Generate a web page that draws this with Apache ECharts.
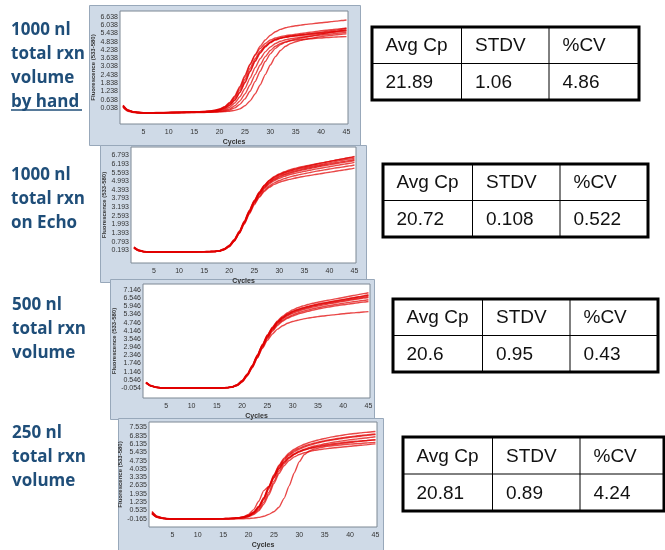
<!DOCTYPE html>
<html><head><meta charset="utf-8">
<script src="https://cdn.jsdelivr.net/npm/echarts@6/dist/echarts.min.js"></script>
<style>html,body{margin:0;padding:0;background:#fff}#c{width:665px;height:550px}</style>
</head><body><div id="c"></div>
<script>
// ---------------- DATA ----------------
const cycles = [1,2,3,4,5,6,7,8,9,10,11,12,13,14,15,16,17,18,19,20,21,22,23,24,25,26,27,28,29,30,31,32,33,34,35,36,37,38,39,40,41,42,43,44,45];
const xTickValues = [5,10,15,20,25,30,35,40,45];

const yTicks1 = [0.038,0.638,1.238,1.838,2.438,3.038,3.638,4.238,4.838,5.438,6.038,6.638];
const yTicks2 = [0.193,0.793,1.393,1.993,2.593,3.193,3.793,4.393,4.993,5.593,6.193,6.793];
const yTicks3 = [-0.054,0.546,1.146,1.746,2.346,2.946,3.546,4.146,4.746,5.346,5.946,6.546,7.146];
const yTicks4 = [-0.165,0.535,1.235,1.935,2.635,3.335,4.035,4.735,5.435,6.135,6.835,7.535];

const yAxisName = 'Fluorescence (533-580)';
const xAxisName = 'Cycles';

// Panel 1: 1000 nl by hand
const p1c1 = [0.25,-0.10,-0.22,-0.27,-0.29,-0.30,-0.30,-0.29,-0.29,-0.28,-0.27,-0.27,-0.26,-0.25,-0.24,-0.23,-0.21,-0.18,-0.13,-0.04,0.12,0.40,0.85,1.50,2.30,3.15,3.90,4.50,4.95,5.30,5.55,5.72,5.84,5.92,5.98,6.03,6.08,6.12,6.16,6.20,6.24,6.28,6.32,6.36,6.40];
const p1c2 = [0.15,-0.15,-0.25,-0.28,-0.30,-0.31,-0.31,-0.30,-0.30,-0.29,-0.28,-0.28,-0.27,-0.26,-0.25,-0.24,-0.22,-0.20,-0.15,-0.07,0.08,0.33,0.75,1.35,2.10,2.90,3.60,4.15,4.55,4.82,5.00,5.10,5.18,5.24,5.29,5.34,5.38,5.43,5.47,5.52,5.57,5.62,5.67,5.73,5.80];
const p1c3 = [0.10,-0.20,-0.28,-0.31,-0.33,-0.33,-0.33,-0.32,-0.32,-0.31,-0.30,-0.30,-0.29,-0.28,-0.27,-0.26,-0.25,-0.23,-0.19,-0.12,0.00,0.22,0.60,1.15,1.85,2.65,3.40,4.00,4.45,4.75,4.95,5.07,5.15,5.20,5.24,5.28,5.32,5.35,5.39,5.42,5.46,5.50,5.53,5.57,5.60];
const p1c4 = [0.20,-0.12,-0.24,-0.28,-0.30,-0.30,-0.30,-0.30,-0.29,-0.29,-0.28,-0.28,-0.27,-0.27,-0.26,-0.25,-0.24,-0.23,-0.20,-0.16,-0.07,0.10,0.40,0.85,1.45,2.20,2.95,3.60,4.10,4.45,4.70,4.86,4.97,5.05,5.10,5.15,5.19,5.23,5.27,5.31,5.35,5.39,5.43,5.47,5.50];
const p1c5 = [0.15,-0.15,-0.26,-0.30,-0.31,-0.32,-0.32,-0.31,-0.31,-0.30,-0.30,-0.29,-0.29,-0.28,-0.28,-0.27,-0.26,-0.25,-0.23,-0.20,-0.14,-0.02,0.20,0.55,1.05,1.70,2.45,3.15,3.75,4.20,4.50,4.70,4.82,4.90,4.95,4.99,5.02,5.05,5.08,5.10,5.13,5.15,5.17,5.19,5.20];
const p1c6 = [0.18,-0.14,-0.25,-0.29,-0.31,-0.31,-0.31,-0.30,-0.30,-0.29,-0.29,-0.28,-0.28,-0.27,-0.27,-0.26,-0.25,-0.24,-0.23,-0.22,-0.18,-0.10,0.05,0.30,0.70,1.25,1.95,2.70,3.40,3.95,4.35,4.62,4.80,4.93,5.02,5.10,5.17,5.24,5.31,5.38,5.45,5.52,5.58,5.64,5.70];
const p1c7 = [0.12,-0.17,-0.27,-0.31,-0.32,-0.33,-0.33,-0.32,-0.32,-0.31,-0.31,-0.30,-0.30,-0.29,-0.29,-0.28,-0.28,-0.27,-0.26,-0.24,-0.22,-0.19,-0.13,-0.02,0.20,0.55,1.05,1.70,2.45,3.15,3.75,4.20,4.50,4.70,4.83,4.93,5.01,5.08,5.14,5.20,5.25,5.29,5.33,5.37,5.40];
const p1c8 = [0.22,-0.11,-0.23,-0.27,-0.29,-0.29,-0.29,-0.28,-0.28,-0.27,-0.26,-0.26,-0.25,-0.24,-0.23,-0.22,-0.20,-0.17,-0.12,-0.03,0.14,0.45,0.92,1.60,2.40,3.20,3.85,4.35,4.70,4.95,5.10,5.20,5.27,5.32,5.37,5.42,5.47,5.52,5.57,5.62,5.66,5.70,5.74,5.77,5.80];
const p1c9 = [0.17,-0.13,-0.24,-0.28,-0.30,-0.31,-0.30,-0.30,-0.29,-0.29,-0.28,-0.27,-0.27,-0.26,-0.25,-0.24,-0.23,-0.21,-0.17,-0.10,0.03,0.25,0.62,1.18,1.90,2.70,3.45,4.05,4.48,4.78,4.98,5.10,5.18,5.24,5.28,5.32,5.36,5.40,5.44,5.48,5.52,5.55,5.58,5.62,5.65];

// Panel 2: 1000 nl on Echo
const p2c1 = [0.42,0.20,0.11,0.08,0.08,0.07,0.07,0.08,0.08,0.08,0.09,0.09,0.09,0.10,0.10,0.11,0.12,0.16,0.29,0.52,0.92,1.48,2.18,2.93,3.63,4.22,4.72,5.07,5.32,5.50,5.65,5.78,5.88,5.96,6.03,6.10,6.17,6.24,6.30,6.37,6.44,6.51,6.58,6.65,6.72];
const p2c2 = [0.38,0.18,0.10,0.08,0.07,0.07,0.07,0.07,0.08,0.08,0.08,0.09,0.09,0.09,0.10,0.10,0.11,0.15,0.27,0.50,0.90,1.45,2.15,2.90,3.60,4.18,4.66,5.00,5.24,5.42,5.56,5.68,5.78,5.86,5.93,6.00,6.07,6.14,6.21,6.28,6.35,6.42,6.48,6.54,6.60];
const p2c3 = [0.35,0.16,0.09,0.07,0.07,0.06,0.06,0.07,0.07,0.07,0.08,0.08,0.08,0.09,0.09,0.10,0.11,0.14,0.25,0.47,0.86,1.40,2.10,2.84,3.54,4.12,4.58,4.92,5.16,5.34,5.48,5.60,5.70,5.78,5.86,5.93,6.00,6.07,6.14,6.20,6.26,6.32,6.38,6.44,6.50];
const p2c4 = [0.40,0.19,0.10,0.08,0.07,0.07,0.07,0.07,0.08,0.08,0.08,0.08,0.09,0.09,0.10,0.10,0.11,0.15,0.27,0.49,0.88,1.42,2.10,2.82,3.50,4.05,4.48,4.80,5.03,5.20,5.33,5.44,5.53,5.61,5.68,5.75,5.82,5.88,5.94,6.00,6.06,6.12,6.18,6.24,6.30];
const p2c5 = [0.36,0.17,0.09,0.07,0.06,0.06,0.06,0.06,0.07,0.07,0.07,0.08,0.08,0.08,0.09,0.09,0.10,0.13,0.24,0.45,0.84,1.38,2.05,2.76,3.42,3.95,4.36,4.66,4.88,5.04,5.17,5.28,5.37,5.45,5.52,5.59,5.66,5.72,5.78,5.84,5.90,5.95,6.00,6.06,6.12];
const p2c6 = [0.34,0.15,0.08,0.06,0.06,0.05,0.05,0.06,0.06,0.06,0.07,0.07,0.07,0.08,0.08,0.09,0.10,0.13,0.23,0.44,0.82,1.35,2.00,2.70,3.35,3.88,4.28,4.57,4.77,4.92,5.03,5.12,5.20,5.27,5.33,5.39,5.45,5.50,5.56,5.62,5.67,5.73,5.78,5.84,5.90];
const p2c7 = [0.41,0.21,0.11,0.09,0.08,0.08,0.08,0.08,0.08,0.09,0.09,0.09,0.10,0.10,0.10,0.11,0.12,0.17,0.30,0.54,0.95,1.52,2.22,2.97,3.66,4.24,4.70,5.04,5.28,5.46,5.60,5.72,5.82,5.91,5.99,6.07,6.15,6.23,6.30,6.37,6.44,6.50,6.56,6.62,6.68];
const p2c8 = [0.37,0.18,0.10,0.08,0.07,0.07,0.07,0.07,0.07,0.08,0.08,0.08,0.09,0.09,0.09,0.10,0.11,0.14,0.26,0.48,0.87,1.42,2.12,2.86,3.55,4.12,4.56,4.88,5.11,5.28,5.42,5.53,5.63,5.72,5.80,5.87,5.94,6.01,6.07,6.13,6.19,6.25,6.31,6.37,6.43];

// Panel 3: 500 nl
const p3c1 = [0.36,0.12,0.00,-0.04,-0.05,-0.06,-0.06,-0.06,-0.06,-0.06,-0.06,-0.06,-0.05,-0.05,-0.05,-0.04,-0.02,0.03,0.18,0.48,0.95,1.58,2.35,3.12,3.84,4.42,4.88,5.22,5.48,5.68,5.84,5.97,6.08,6.17,6.25,6.32,6.39,6.46,6.53,6.60,6.67,6.74,6.81,6.88,6.95];
const p3c2 = [0.33,0.10,-0.01,-0.05,-0.06,-0.07,-0.07,-0.07,-0.07,-0.07,-0.07,-0.06,-0.06,-0.06,-0.05,-0.05,-0.03,0.02,0.16,0.45,0.92,1.55,2.30,3.07,3.78,4.35,4.80,5.13,5.38,5.57,5.72,5.84,5.95,6.04,6.12,6.19,6.26,6.33,6.39,6.45,6.51,6.57,6.63,6.69,6.75];
const p3c3 = [0.30,0.08,-0.02,-0.05,-0.07,-0.07,-0.07,-0.07,-0.07,-0.07,-0.07,-0.07,-0.06,-0.06,-0.06,-0.05,-0.04,0.01,0.14,0.42,0.88,1.50,2.25,3.00,3.70,4.26,4.70,5.02,5.26,5.44,5.58,5.70,5.80,5.89,5.97,6.04,6.11,6.18,6.25,6.31,6.37,6.43,6.49,6.55,6.60];
const p3c4 = [0.35,0.11,0.00,-0.04,-0.06,-0.06,-0.06,-0.06,-0.06,-0.06,-0.06,-0.06,-0.05,-0.05,-0.05,-0.04,-0.03,0.02,0.15,0.43,0.89,1.50,2.24,2.98,3.66,4.20,4.62,4.93,5.15,5.32,5.46,5.58,5.68,5.77,5.85,5.92,5.99,6.05,6.11,6.17,6.23,6.28,6.33,6.38,6.43];
const p3c5 = [0.32,0.09,-0.01,-0.05,-0.06,-0.07,-0.07,-0.07,-0.07,-0.07,-0.06,-0.06,-0.06,-0.06,-0.05,-0.05,-0.04,0.00,0.12,0.38,0.82,1.42,2.15,2.90,3.58,4.12,4.54,4.85,5.07,5.24,5.37,5.48,5.58,5.67,5.75,5.82,5.89,5.95,6.01,6.06,6.11,6.16,6.21,6.26,6.30];
const p3c6 = [0.34,0.10,0.00,-0.04,-0.06,-0.06,-0.06,-0.06,-0.06,-0.06,-0.06,-0.06,-0.05,-0.05,-0.05,-0.04,-0.03,0.01,0.13,0.40,0.84,1.44,2.15,2.85,3.45,3.92,4.27,4.52,4.70,4.83,4.93,5.01,5.08,5.14,5.19,5.24,5.28,5.32,5.36,5.40,5.44,5.47,5.50,5.53,5.56];
const p3c7 = [0.31,0.09,-0.01,-0.05,-0.06,-0.06,-0.06,-0.07,-0.07,-0.07,-0.07,-0.06,-0.06,-0.06,-0.05,-0.05,-0.03,0.01,0.15,0.44,0.90,1.53,2.28,3.04,3.74,4.30,4.74,5.07,5.31,5.50,5.65,5.77,5.87,5.96,6.04,6.11,6.18,6.25,6.31,6.37,6.43,6.49,6.55,6.61,6.67];
const p3c8 = [0.37,0.13,0.01,-0.03,-0.05,-0.05,-0.05,-0.05,-0.05,-0.05,-0.05,-0.05,-0.05,-0.04,-0.04,-0.03,-0.02,0.04,0.19,0.50,0.97,1.60,2.36,3.12,3.82,4.38,4.82,5.14,5.38,5.56,5.70,5.82,5.92,6.01,6.09,6.16,6.23,6.30,6.37,6.44,6.51,6.58,6.65,6.72,6.80];

// Panel 4: 250 nl
const p4c1 = [0.45,0.05,-0.10,-0.15,-0.17,-0.18,-0.18,-0.18,-0.18,-0.18,-0.18,-0.17,-0.17,-0.17,-0.16,-0.15,-0.13,-0.10,-0.03,0.12,0.40,0.88,1.62,2.58,3.55,4.35,4.95,5.38,5.70,5.94,6.12,6.27,6.40,6.51,6.61,6.70,6.78,6.85,6.92,6.98,7.03,7.08,7.12,7.16,7.20];
const p4c2 = [0.30,-0.02,-0.13,-0.17,-0.19,-0.20,-0.20,-0.20,-0.20,-0.19,-0.19,-0.19,-0.18,-0.18,-0.17,-0.16,-0.14,-0.11,-0.05,0.08,0.34,0.80,1.52,2.45,3.40,4.18,4.76,5.18,5.48,5.70,5.88,6.03,6.16,6.27,6.36,6.44,6.51,6.58,6.64,6.70,6.75,6.80,6.85,6.89,6.93];
const p4c3 = [0.25,-0.05,-0.14,-0.18,-0.20,-0.21,-0.21,-0.21,-0.20,-0.20,-0.20,-0.19,-0.19,-0.18,-0.18,-0.17,-0.15,-0.12,-0.06,0.06,0.30,0.74,1.44,2.35,3.28,4.05,4.62,5.03,5.32,5.54,5.71,5.85,5.97,6.07,6.16,6.24,6.31,6.38,6.44,6.50,6.55,6.60,6.65,6.70,6.75];
const p4c4 = [0.35,0.00,-0.12,-0.16,-0.18,-0.19,-0.19,-0.19,-0.19,-0.18,-0.18,-0.18,-0.17,-0.17,-0.16,-0.15,-0.13,-0.09,0.00,0.20,0.60,1.30,2.20,2.55,3.30,4.05,4.60,5.00,5.28,5.48,5.63,5.75,5.85,5.93,6.00,6.06,6.12,6.17,6.22,6.27,6.32,6.37,6.42,6.46,6.50];
const p4c5 = [0.28,-0.04,-0.14,-0.18,-0.20,-0.20,-0.21,-0.21,-0.20,-0.20,-0.20,-0.19,-0.19,-0.19,-0.18,-0.17,-0.16,-0.14,-0.09,0.00,0.18,0.50,1.05,1.85,2.80,3.65,4.30,4.75,5.05,5.25,5.40,5.51,5.60,5.67,5.73,5.78,5.83,5.87,5.91,5.95,5.99,6.03,6.07,6.11,6.15];
const p4c6 = [0.32,-0.01,-0.13,-0.17,-0.19,-0.19,-0.20,-0.20,-0.19,-0.19,-0.19,-0.18,-0.18,-0.18,-0.17,-0.16,-0.15,-0.12,-0.07,0.04,0.25,0.62,1.22,2.05,3.00,3.85,4.48,4.93,5.25,5.48,5.65,5.78,5.89,5.98,6.06,6.13,6.19,6.24,6.29,6.33,6.37,6.40,6.43,6.46,6.49];
const p4c7 = [0.26,-0.05,-0.15,-0.19,-0.21,-0.22,-0.22,-0.22,-0.22,-0.21,-0.21,-0.21,-0.20,-0.20,-0.20,-0.19,-0.19,-0.18,-0.17,-0.15,-0.12,-0.06,0.04,0.20,0.42,0.80,1.55,2.60,3.70,4.65,5.25,5.55,5.72,5.83,5.91,5.97,6.02,6.06,6.10,6.13,6.16,6.19,6.22,6.25,6.28];
const p4c8 = [0.40,0.03,-0.11,-0.16,-0.18,-0.18,-0.19,-0.19,-0.18,-0.18,-0.18,-0.17,-0.17,-0.16,-0.16,-0.15,-0.13,-0.10,-0.04,0.10,0.37,0.84,1.57,2.52,3.48,4.27,4.86,5.28,5.58,5.80,5.97,6.11,6.23,6.33,6.42,6.50,6.57,6.64,6.70,6.76,6.81,6.86,6.91,6.95,6.99];

// Labels and table values
const panelLabels = [
  ['1000 nl','total rxn','volume','by hand'],
  ['1000 nl','total rxn','on Echo'],
  ['500 nl','total rxn','volume'],
  ['250 nl','total rxn','volume']
];
const tableHeaders = ['Avg Cp','STDV','%CV'];
const avgCp = ['21.89','20.72','20.6','20.81'];
const stdv  = ['1.06','0.108','0.95','0.89'];
const pctCV = ['4.86','0.522','0.43','4.24'];

// ---------------- LAYOUT ----------------
const panels = [
  {curves:[p1c1,p1c2,p1c3,p1c4,p1c5,p1c6,p1c7,p1c8,p1c9], ticks:yTicks1, ymin:-1.115, ymax:7.05,
   grid:{left:120, top:11, width:228, height:113}, frame:[89,5,271,140],
   labelPos:[11,30], table:[372,27,267,73]},
  {curves:[p2c1,p2c2,p2c3,p2c4,p2c5,p2c6,p2c7,p2c8], ticks:yTicks2, ymin:-0.69, ymax:7.37,
   grid:{left:131, top:147, width:225, height:116}, frame:[100,145,266,137],
   labelPos:[11,175], table:[383,164,265,73]},
  {curves:[p3c1,p3c2,p3c3,p3c4,p3c5,p3c6,p3c7,p3c8], ticks:yTicks3, ymin:-0.79, ymax:7.59,
   grid:{left:143, top:284, width:227, height:114}, frame:[110,279,264,140],
   labelPos:[12,305], table:[393,299,265,73]},
  {curves:[p4c1,p4c2,p4c3,p4c4,p4c5,p4c6,p4c7,p4c8], ticks:yTicks4, ymin:-0.87, ymax:8.0,
   grid:{left:149, top:422, width:228, height:114}, frame:[118,418,265,140],
   labelPos:[12,433], table:[403,437,261,74]}
];

const grids=[], xAxes=[], yAxes=[], series=[], graphics=[];
const lineColor = 'rgba(224,0,0,0.72)';
const labelBlue = '#1f4e79';

panels.forEach((p, i) => {
  grids.push(Object.assign({show:true, backgroundColor:'#ffffff', borderColor:'#7d8894', borderWidth:1, z:1}, p.grid));
  xAxes.push({
    type:'value', gridIndex:i, min:0.4, max:45.3,
    axisLine:{show:false}, axisTick:{show:false}, splitLine:{show:false},
    axisLabel:{customValues:xTickValues, fontSize:7, color:'#333', margin:5, fontFamily:'Liberation Sans'},
    name:xAxisName, nameLocation:'middle', nameGap:15,
    nameTextStyle:{fontSize:7, fontWeight:'bold', color:'#333', fontFamily:'Liberation Sans'}
  });
  yAxes.push({
    type:'value', gridIndex:i, min:p.ymin, max:p.ymax,
    axisLine:{show:false}, axisTick:{show:false}, splitLine:{show:false},
    axisLabel:{customValues:p.ticks, fontSize:7, color:'#333', margin:2, fontFamily:'Liberation Sans',
      formatter:(v)=>Number(v).toFixed(3)},
    name:yAxisName, nameLocation:'middle', nameGap:23,
    nameTextStyle:{fontSize:6, fontWeight:'bold', color:'#333', fontFamily:'Liberation Sans'}
  });
  p.curves.forEach(arr => {
    series.push({
      type:'line', xAxisIndex:i, yAxisIndex:i, showSymbol:false, smooth:0.2, smoothMonotone:'x',
      data: cycles.map((c,k)=>[c, arr[k]]),
      lineStyle:{color:lineColor, width:1.4}, z:3, silent:true
    });
  });
  // frame
  const f = p.frame;
  graphics.push({type:'rect', z:-10, shape:{x:f[0]+0.5, y:f[1]+0.5, width:f[2], height:f[3]},
    style:{fill:'#cfdae7', stroke:'#98a8ba', lineWidth:1}});
  // left label
  panelLabels[i].forEach((t, j) => {
    graphics.push({type:'text', z:5, style:{text:t, x:p.labelPos[0], y:p.labelPos[1]+j*24,
      verticalAlign:'middle', fill:labelBlue, font:'bold 17px "Open Sans"'}});
  });
  // table
  const [tx, ty, tw, th] = p.table;
  const cols = [0, 89.5, 177, tw];
  const rowMid = th/2;
  graphics.push({type:'rect', z:5, shape:{x:tx, y:ty, width:tw, height:th},
    style:{fill:'#fff', stroke:'#000', lineWidth:3}});
  graphics.push({type:'line', z:6, shape:{x1:tx, y1:ty+rowMid, x2:tx+tw, y2:ty+rowMid}, style:{stroke:'#000', lineWidth:1}});
  graphics.push({type:'line', z:6, shape:{x1:tx+cols[1], y1:ty, x2:tx+cols[1], y2:ty+th}, style:{stroke:'#000', lineWidth:1}});
  graphics.push({type:'line', z:6, shape:{x1:tx+cols[2], y1:ty, x2:tx+cols[2], y2:ty+th}, style:{stroke:'#000', lineWidth:1}});
  const rowVals = [avgCp[i], stdv[i], pctCV[i]];
  for (let c=0; c<3; c++) {
    graphics.push({type:'text', z:7, style:{text:tableHeaders[c], x:tx+cols[c]+13.5, y:ty+rowMid/2+1,
      verticalAlign:'middle', fill:'#111', font:'19px "Liberation Sans"'}});
    graphics.push({type:'text', z:7, style:{text:rowVals[c], x:tx+cols[c]+13.5, y:ty+rowMid+rowMid/2+1,
      verticalAlign:'middle', fill:'#111', font:'19px "Liberation Sans"'}});
  }
});
// underline of "by hand"
graphics.push({type:'line', z:6, shape:{x1:11, y1:110, x2:82, y2:110}, style:{stroke:labelBlue, lineWidth:1.5}});

const chart = echarts.init(document.getElementById('c'), null, {renderer:'canvas'});
chart.setOption({
  animation:false,
  backgroundColor:'#ffffff',
  grid:grids, xAxis:xAxes, yAxis:yAxes, series:series,
  graphic:{elements:graphics}
});
</script></body></html>
